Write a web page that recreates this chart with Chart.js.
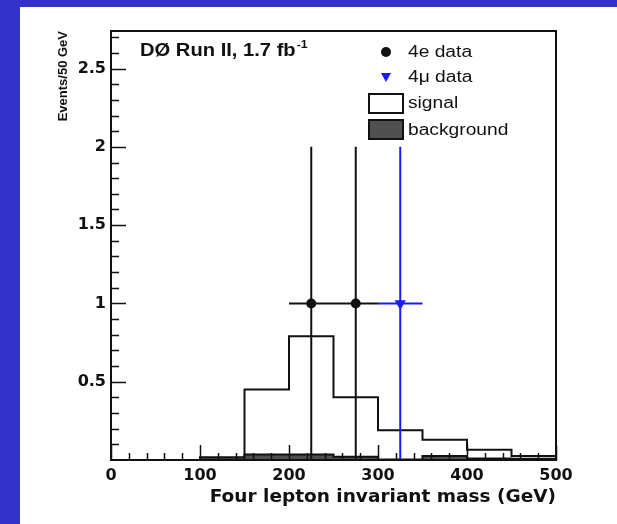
<!DOCTYPE html>
<html>
<head>
<meta charset="utf-8">
<script src="https://cdn.jsdelivr.net/npm/chart.js@4/dist/chart.umd.min.js"></script>
<style>
  html, body { margin: 0; padding: 0; background: #3333cc; width: 617px; height: 524px; overflow: hidden; }
  #panel { position: absolute; left: 20px; top: 7px; width: 597px; height: 517px; background: #ffffff; }
  canvas { display: block; }
</style>
</head>
<body>
<div id="panel"><canvas id="c" width="597" height="517"></canvas></div>
<script>
// Histogram bins (GeV) and expected yields per 50 GeV bin
const binEdges   = [0, 50, 100, 150, 200, 250, 300, 350, 400, 450, 500];
const signal     = [0, 0, 0.017, 0.45, 0.79, 0.40, 0.19, 0.13, 0.065, 0.025];
const background = [0, 0, 0.005, 0.035, 0.035, 0.02, 0.003, 0.025, 0.01, 0.008];

// Observed candidates: 4e and 4mu, with symmetric errors
const eeMass   = [225, 275];
const eeEvents = [1, 1];
const eeErr    = [1, 1];
const mmMass   = [325];
const mmEvents = [1];
const mmErr    = [1];
const binHalfWidth = 25;

// Axis tick labels
const xTickValues = [0, 100, 200, 300, 400, 500];
const yTickValues = [0.5, 1, 1.5, 2, 2.5];

// Step outline points: each value holds from its left edge to the next edge
function stepPoints(values) {
  return binEdges.map((e, i) => ({ x: e, y: values[Math.min(i, values.length - 1)] }));
}

// Error-bar segments (vertical + horizontal), separated by gaps
function errorSegments(xs, ys, errs) {
  const pts = [];
  xs.forEach((x, i) => {
    pts.push({ x: x, y: ys[i] - errs[i] }, { x: x, y: ys[i] + errs[i] }, { x: x, y: null });
    pts.push({ x: x - binHalfWidth, y: ys[i] }, { x: x + binHalfWidth, y: ys[i] }, { x: x, y: null });
  });
  return pts;
}

const BLUE = '#1a1aff';
const INK = '#111111';

// Inner ticks and frame in the ROOT style
const frameTicks = {
  id: 'frameTicks',
  afterDatasetsDraw(chart) {
    const { ctx, chartArea: a, scales: { x, y } } = chart;
    ctx.save();
    ctx.strokeStyle = INK;
    ctx.lineWidth = 1.5;
    ctx.beginPath();
    for (let v = 0; v <= 500.001; v += 20) {
      const px = Math.round(x.getPixelForValue(v)) + 0.5;
      const len = Math.abs(v % 100) < 1e-6 ? 15 : 7;
      ctx.moveTo(px, a.bottom);
      ctx.lineTo(px, a.bottom - len);
    }
    for (let k = 1; k <= 27; k++) {
      const v = k / 10;
      const py = Math.round(y.getPixelForValue(v)) + 0.5;
      const len = k % 5 === 0 ? 15 : 8;
      ctx.moveTo(a.left, py);
      ctx.lineTo(a.left + len, py);
    }
    ctx.stroke();
    ctx.lineWidth = 2;
    ctx.strokeRect(a.left, a.top, a.right - a.left, a.bottom - a.top);
    ctx.restore();
  }
};

// Experiment label and legend inside the frame
const keyBox = {
  id: 'keyBox',
  afterDraw(chart) {
    const { ctx, chartArea: a } = chart;
    const stretched = (text, x, y, font, sx) => {
      ctx.save();
      ctx.font = font;
      ctx.translate(x, y);
      ctx.scale(sx, 1);
      ctx.fillText(text, 0, 0);
      const w = ctx.measureText(text).width * sx;
      ctx.restore();
      return w;
    };
    ctx.save();
    ctx.fillStyle = INK;
    ctx.textBaseline = 'alphabetic';
    ctx.textAlign = 'left';
    // Experiment and luminosity
    const hx = a.left + 29, hy = a.top + 25;
    const w = stretched('D\u00D8 Run II, 1.7 fb', hx, hy, 'bold 18px "Liberation Sans", Arial, sans-serif', 1.12);
    stretched('-1', hx + w + 1, hy - 8, 'bold 11px "Liberation Sans", Arial, sans-serif', 1.12);

    const mx = a.left + 275, tx = a.left + 297;
    const legFont = '16px "Liberation Sans", Arial, sans-serif';
    // 4e data
    ctx.beginPath();
    ctx.arc(mx, a.top + 21, 5, 0, Math.PI * 2);
    ctx.fill();
    stretched('4e data', tx, a.top + 26, legFont, 1.2);
    // 4mu data
    ctx.fillStyle = BLUE;
    ctx.beginPath();
    ctx.moveTo(mx - 5, a.top + 42);
    ctx.lineTo(mx + 5, a.top + 42);
    ctx.lineTo(mx, a.top + 51);
    ctx.closePath();
    ctx.fill();
    ctx.fillStyle = INK;
    stretched('4\u03BC data', tx, a.top + 51, legFont, 1.2);
    // signal
    ctx.lineWidth = 2;
    ctx.strokeStyle = INK;
    ctx.fillStyle = '#ffffff';
    ctx.fillRect(a.left + 258, a.top + 63, 34, 19);
    ctx.strokeRect(a.left + 258, a.top + 63, 34, 19);
    ctx.fillStyle = INK;
    stretched('signal', tx, a.top + 77, legFont, 1.2);
    // background
    ctx.fillStyle = '#4f4f4f';
    ctx.fillRect(a.left + 258, a.top + 89, 34, 19);
    ctx.strokeRect(a.left + 258, a.top + 89, 34, 19);
    ctx.fillStyle = INK;
    stretched('background', tx, a.top + 104, legFont, 1.2);
    ctx.restore();
  }
};

new Chart(document.getElementById('c'), {
  type: 'line',
  data: {
    datasets: [
      {
        label: '4e data',
        data: eeMass.map((m, i) => ({ x: m, y: eeEvents[i] })),
        showLine: false,
        pointRadius: 5,
        pointBackgroundColor: INK,
        pointBorderWidth: 0,
        order: 0
      },
      {
        label: '4\u03BC data',
        data: mmMass.map((m, i) => ({ x: m, y: mmEvents[i] })),
        showLine: false,
        pointStyle: 'triangle',
        rotation: 180,
        pointRadius: 6.5,
        pointBackgroundColor: BLUE,
        pointBorderWidth: 0,
        order: 0
      },
      {
        label: '4e errors',
        data: errorSegments(eeMass, eeEvents, eeErr),
        borderColor: INK,
        borderWidth: 2,
        pointRadius: 0,
        spanGaps: false,
        order: 1
      },
      {
        label: '4\u03BC errors',
        data: errorSegments(mmMass, mmEvents, mmErr),
        borderColor: BLUE,
        borderWidth: 2,
        pointRadius: 0,
        spanGaps: false,
        order: 1
      },
      {
        label: 'background',
        data: stepPoints(background),
        stepped: 'before',
        borderColor: INK,
        borderWidth: 2,
        backgroundColor: '#4f4f4f',
        fill: 'origin',
        pointRadius: 0,
        order: 2
      },
      {
        label: 'signal',
        data: stepPoints(signal),
        stepped: 'before',
        borderColor: INK,
        borderWidth: 2,
        backgroundColor: '#ffffff',
        fill: 'origin',
        pointRadius: 0,
        order: 3
      }
    ]
  },
  options: {
    responsive: false,
    animation: false,
    devicePixelRatio: 1,
    layout: { padding: { left: 0, top: 24, right: 61, bottom: 0 } },
    plugins: { legend: { display: false }, tooltip: { enabled: false } },
    scales: {
      x: {
        type: 'linear',
        min: 0,
        max: 500,
        grid: { display: false, drawTicks: false },
        border: { display: false },
        afterBuildTicks: s => { s.ticks = xTickValues.map(v => ({ value: v })); },
        afterFit: s => { s.height = 64; },
        ticks: {
          padding: 6,
          color: INK,
          maxRotation: 0,
          font: { family: '"DejaVu Sans", sans-serif', weight: 'bold', size: 16 },
          callback: v => String(v)
        },
        title: {
          display: true,
          text: 'Four lepton invariant mass (GeV)',
          align: 'end',
          color: INK,
          padding: { top: 0, bottom: 16 },
          font: { family: '"DejaVu Sans", sans-serif', weight: 'bold', size: 18.5 }
        }
      },
      y: {
        type: 'linear',
        min: 0,
        max: 2.74,
        grid: { display: false, drawTicks: false },
        border: { display: false },
        afterBuildTicks: s => { s.ticks = yTickValues.map(v => ({ value: v })); },
        afterFit: s => { s.width = 91; },
        ticks: {
          padding: 5,
          color: INK,
          font: { family: '"DejaVu Sans", sans-serif', weight: 'bold', size: 16 },
          callback: v => String(v)
        },
        title: {
          display: true,
          text: 'Events/50 GeV',
          align: 'end',
          color: INK,
          padding: { top: 36, bottom: 0 },
          font: { family: '"Liberation Sans", Arial, sans-serif', weight: 'bold', size: 13 }
        }
      }
    }
  },
  plugins: [frameTicks, keyBox]
});
</script>
</body>
</html>
